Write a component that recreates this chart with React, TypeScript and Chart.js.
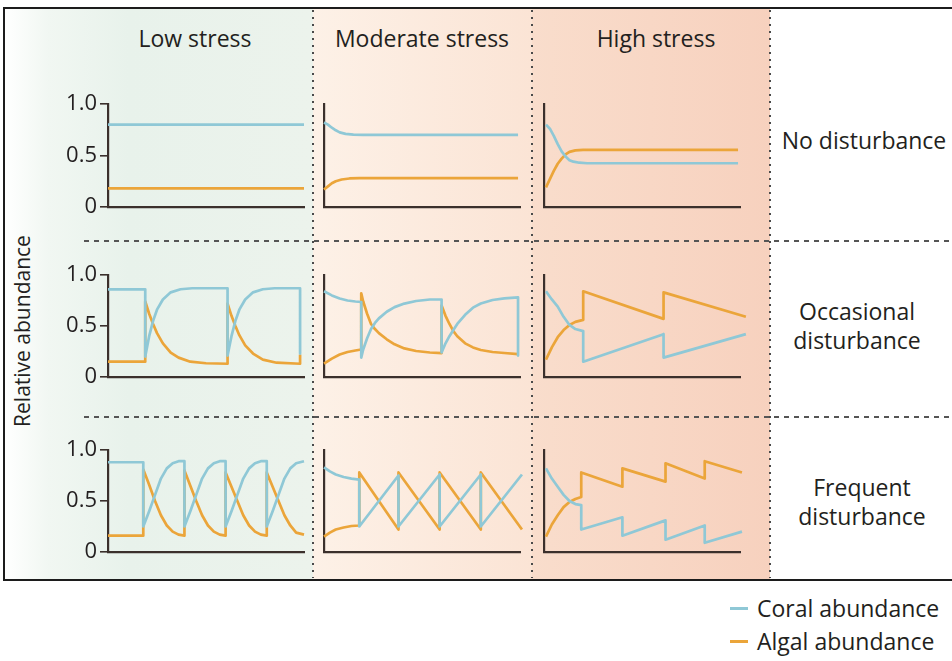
import React, { useEffect, useRef } from 'react';
import { Chart, registerables } from 'chart.js';

Chart.register(...registerables);

// ---------- data ----------
const columnTitles = ['Low stress', 'Moderate stress', 'High stress'];
const rowTitles = [['No disturbance'], ['Occasional', 'disturbance'], ['Frequent', 'disturbance']];
const yTickValues = [0, 0.5, 1];
const yTickLabels = ['0', '0.5', '1.0'];
const legendLabels = ['Coral abundance', 'Algal abundance'];

type P = [number, number];

// Row 1: no disturbance
const lowNoCoral: P[] = [[0, 0.8], [100, 0.8]];
const lowNoAlgal: P[] = [[0, 0.18], [100, 0.18]];
const modNoCoral: P[] = [[0, 0.82], [2, 0.8], [4, 0.77], [6, 0.745], [8, 0.725], [11, 0.71], [15, 0.703], [20, 0.7], [99, 0.7]];
const modNoAlgal: P[] = [[0, 0.17], [2, 0.2], [4, 0.23], [6, 0.25], [9, 0.267], [13, 0.277], [18, 0.28], [99, 0.28]];
const highNoCoral: P[] = [[1, 0.8], [3, 0.76], [5, 0.69], [7, 0.61], [9, 0.54], [11, 0.49], [13, 0.455], [15, 0.44], [18, 0.43], [22, 0.425], [99, 0.425]];
const highNoAlgal: P[] = [[1, 0.19], [3, 0.27], [5, 0.35], [7, 0.42], [9, 0.47], [11, 0.51], [13, 0.535], [16, 0.55], [20, 0.555], [99, 0.555]];

// Row 2: occasional disturbance
const lowOccCoral: P[] = [[0, 0.86], [19, 0.86], [19, 0.2], [21, 0.4], [23, 0.55], [25, 0.66], [28, 0.76], [32, 0.83], [37, 0.86], [43, 0.87], [61, 0.87], [61, 0.21], [63, 0.4], [65, 0.55], [67, 0.66], [70, 0.76], [74, 0.83], [79, 0.86], [85, 0.87], [98, 0.87], [98, 0.23]];
const lowOccAlgal: P[] = [[0, 0.15], [19, 0.15], [19, 0.74], [21, 0.62], [23, 0.52], [25, 0.43], [28, 0.33], [32, 0.24], [36, 0.19], [42, 0.15], [50, 0.135], [61, 0.13], [61, 0.72], [63, 0.6], [65, 0.5], [67, 0.41], [70, 0.31], [74, 0.23], [79, 0.17], [86, 0.14], [98, 0.13], [98, 0.22]];
const modOccCoral: P[] = [[0, 0.84], [4, 0.8], [8, 0.77], [12, 0.75], [16, 0.74], [19, 0.735], [19, 0.19], [20, 0.27], [22, 0.38], [24, 0.47], [26, 0.53], [28, 0.575], [32, 0.64], [36, 0.685], [41, 0.72], [47, 0.745], [54, 0.76], [60, 0.76], [60, 0.24], [62, 0.33], [64, 0.4], [66, 0.46], [68, 0.52], [72, 0.61], [76, 0.68], [80, 0.72], [86, 0.755], [92, 0.77], [99, 0.78], [99, 0.21]];
const modOccAlgal: P[] = [[0, 0.13], [4, 0.18], [8, 0.22], [12, 0.245], [16, 0.26], [19, 0.27], [19, 0.82], [20, 0.74], [22, 0.62], [24, 0.52], [26, 0.47], [28, 0.43], [32, 0.37], [36, 0.32], [41, 0.28], [47, 0.255], [54, 0.24], [60, 0.235], [60, 0.7], [62, 0.6], [64, 0.52], [66, 0.45], [68, 0.4], [72, 0.33], [76, 0.29], [80, 0.265], [86, 0.245], [92, 0.235], [99, 0.225]];
const highOccCoral: P[] = [[1, 0.84], [4, 0.76], [7, 0.69], [10, 0.59], [13, 0.51], [16, 0.47], [20, 0.45], [20, 0.15], [61, 0.42], [61, 0.19], [103, 0.42], [103, 0.16]];
const highOccAlgal: P[] = [[1, 0.17], [4, 0.29], [7, 0.39], [10, 0.46], [13, 0.51], [16, 0.54], [20, 0.56], [20, 0.84], [61, 0.57], [61, 0.83], [103, 0.59], [103, 0.82]];

// Row 3: frequent disturbance
const lowFreqCoral: P[] = [[0, 0.88], [18, 0.88], [18, 0.25], [21, 0.4], [24, 0.56], [27, 0.72], [30, 0.82], [33, 0.87], [36, 0.89], [39, 0.89], [39, 0.25], [42, 0.4], [45, 0.56], [48, 0.72], [51, 0.82], [54, 0.87], [57, 0.89], [60, 0.89], [60, 0.25], [63, 0.4], [66, 0.56], [69, 0.72], [72, 0.82], [75, 0.87], [78, 0.89], [81, 0.89], [81, 0.25], [84, 0.4], [87, 0.56], [90, 0.72], [93, 0.82], [96, 0.87], [100, 0.89]];
const lowFreqAlgal: P[] = [[0, 0.16], [18, 0.16], [18, 0.81], [21, 0.66], [24, 0.5], [27, 0.36], [30, 0.26], [33, 0.2], [36, 0.17], [39, 0.16], [39, 0.8], [42, 0.65], [45, 0.5], [48, 0.36], [51, 0.26], [54, 0.2], [57, 0.17], [60, 0.16], [60, 0.78], [63, 0.64], [66, 0.5], [69, 0.36], [72, 0.26], [75, 0.2], [78, 0.17], [81, 0.16], [81, 0.78], [84, 0.64], [87, 0.5], [90, 0.36], [93, 0.26], [96, 0.19], [100, 0.17]];
const modFreqCoral: P[] = [[0, 0.83], [3, 0.79], [6, 0.76], [10, 0.735], [14, 0.72], [18, 0.71], [18, 0.25], [38, 0.75], [38, 0.25], [59, 0.76], [59, 0.25], [80, 0.76], [80, 0.25], [101, 0.76], [101, 0.25]];
const modFreqAlgal: P[] = [[0, 0.15], [3, 0.19], [6, 0.22], [10, 0.24], [14, 0.255], [18, 0.26], [18, 0.78], [38, 0.22], [38, 0.78], [59, 0.22], [59, 0.78], [80, 0.22], [80, 0.78], [101, 0.22]];
const highFreqCoral: P[] = [[1, 0.82], [4, 0.72], [7, 0.64], [10, 0.56], [13, 0.5], [16, 0.47], [19, 0.46], [19, 0.22], [40, 0.34], [40, 0.16], [62, 0.31], [62, 0.12], [82, 0.26], [82, 0.09], [101, 0.2], [101, 0.08]];
const highFreqAlgal: P[] = [[1, 0.15], [4, 0.27], [7, 0.36], [10, 0.44], [13, 0.49], [16, 0.52], [19, 0.54], [19, 0.78], [40, 0.64], [40, 0.82], [62, 0.69], [62, 0.87], [82, 0.72], [82, 0.89], [101, 0.78], [101, 0.91]];

// ---------- style ----------
const FONT = '"Open Sans", sans-serif';
const TEXT = '#231f20';
const AXIS = '#3b302c';
const CORAL = '#8fc8d6';
const ALGAL = '#eba53a';

const colAxisX = [108, 324, 544];
const colAxisRight = [304, 520, 740];
const rowTop = [104, 275, 450];
const rowBottom = [207, 377, 552];

const PAD_L = 56;
const PAD_T = 16;
const PAD_R = 12;
const PAD_B = 16;

const panels: { coral: P[]; algal: P[] }[][] = [
  [{ coral: lowNoCoral, algal: lowNoAlgal }, { coral: modNoCoral, algal: modNoAlgal }, { coral: highNoCoral, algal: highNoAlgal }],
  [{ coral: lowOccCoral, algal: lowOccAlgal }, { coral: modOccCoral, algal: modOccAlgal }, { coral: highOccCoral, algal: highOccAlgal }],
  [{ coral: lowFreqCoral, algal: lowFreqAlgal }, { coral: modFreqCoral, algal: modFreqAlgal }, { coral: highFreqCoral, algal: highFreqAlgal }],
];

function Panel(props: { coral: P[]; algal: P[]; showTicks: boolean; left: number; top: number; width: number; height: number }) {
  const ref = useRef<HTMLCanvasElement | null>(null);
  useEffect(() => {
    const canvas = ref.current;
    if (!canvas) return;
    const lineDs = (pts: P[], color: string) => ({
      data: pts.map(([x, y]) => ({ x, y })),
      borderColor: color,
      backgroundColor: color,
      borderWidth: 2.7,
      pointRadius: 0,
      tension: 0,
      clip: false as any,
      borderJoinStyle: 'round' as const,
      borderCapStyle: 'butt' as const,
    });
    const chart = new Chart(canvas, {
      type: 'line',
      data: {
        datasets: [lineDs(props.coral, CORAL), lineDs(props.algal, ALGAL)],
      },
      options: {
        animation: false,
        responsive: false,
        maintainAspectRatio: false,
        events: [],
        layout: { padding: { left: 0, top: PAD_T, right: PAD_R, bottom: PAD_B } },
        plugins: { legend: { display: false }, tooltip: { enabled: false } },
        scales: {
          x: {
            type: 'linear',
            min: 0,
            max: 100,
            ticks: { display: false },
            grid: { display: false },
            border: { display: true, color: AXIS, width: 2.2 },
            afterFit: (s: any) => { s.height = 0; s.paddingLeft = 0; s.paddingRight = 0; },
          },
          y: {
            type: 'linear',
            min: 0,
            max: 1,
            afterBuildTicks: (s: any) => { s.ticks = yTickValues.map((v) => ({ value: v })); },
            ticks: props.showTicks
              ? {
                  display: true,
                  color: TEXT,
                  font: { family: FONT, size: 22 },
                  padding: 3,
                  callback: (_v: any, i: number) => yTickLabels[i],
                }
              : { display: false },
            grid: {
              display: props.showTicks,
              drawOnChartArea: false,
              drawTicks: true,
              tickLength: 8,
              tickColor: AXIS,
              lineWidth: 1.6,
            },
            border: { display: true, color: AXIS, width: 2.2 },
            afterFit: (s: any) => { s.width = PAD_L; s.paddingTop = 0; s.paddingBottom = 0; },
          },
        },
      },
    } as any);
    return () => chart.destroy();
  }, []);
  return (
    <canvas
      ref={ref}
      width={props.width}
      height={props.height}
      style={{ position: 'absolute', left: props.left, top: props.top, width: props.width, height: props.height }}
    />
  );
}

const textStyle: React.CSSProperties = {
  position: 'absolute',
  transform: 'translate(-50%, -50%)',
  whiteSpace: 'nowrap',
  fontFamily: FONT,
  fontSize: 23,
  color: TEXT,
  lineHeight: 1,
};

export default function App() {
  const vDots = (x: number) => (
    <div
      key={'v' + x}
      style={{
        position: 'absolute',
        left: x - 1,
        top: 10,
        width: 2,
        height: 568,
        backgroundImage: 'repeating-linear-gradient(to bottom, #4a4a4a 0px, #4a4a4a 2px, transparent 2px, transparent 7px)',
      }}
    />
  );
  const hDash = (y: number) => (
    <div
      key={'h' + y}
      style={{
        position: 'absolute',
        left: 84,
        top: y - 1,
        width: 870,
        height: 1.5,
        backgroundImage: 'repeating-linear-gradient(to right, #555 0px, #555 5px, transparent 5px, transparent 10px)',
      }}
    />
  );
  return (
    <div style={{ position: 'fixed', left: 0, top: 0, width: 952, height: 661, background: '#fff', overflow: 'hidden' }}>
      {/* background bands */}
      <div style={{ position: 'absolute', left: 5, top: 9, width: 308, height: 570, background: 'linear-gradient(to right, #ffffff 0%, #f1f7f2 14%, #e8f2eb 40%, #ecf3ec 100%)' }} />
      <div style={{ position: 'absolute', left: 313, top: 9, width: 219, height: 570, background: 'linear-gradient(to right, #fdf1e7 0%, #fbe4d5 100%)' }} />
      <div style={{ position: 'absolute', left: 532, top: 9, width: 238, height: 570, background: 'linear-gradient(to right, #f9ddcc 0%, #f7d1be 100%)' }} />
      {/* outer frame */}
      <div style={{ position: 'absolute', left: 3, top: 7, width: 1000, height: 570, border: '2.5px solid #1c1c1c', boxSizing: 'content-box' }} />
      {[313, 532, 770].map(vDots)}
      {[241, 417].map(hDash)}

      {columnTitles.map((t, i) => (
        <div key={t} style={{ ...textStyle, left: [195, 422, 656][i], top: 38 }}>{t}</div>
      ))}
      {rowTitles.map((lines, r) => (
        <div key={r} style={{ ...textStyle, left: [864, 857, 862][r], top: [140, 326, 502][r], textAlign: 'center', lineHeight: '29px' }}>
          {lines.map((l) => (<div key={l}>{l}</div>))}
        </div>
      ))}
      <div style={{ ...textStyle, fontSize: 21, left: 22, top: 331, transform: 'translate(-50%, -50%) rotate(-90deg)' }}>Relative abundance</div>

      {panels.map((row, r) =>
        row.map((p, c) => (
          <Panel
            key={r + '-' + c}
            coral={p.coral}
            algal={p.algal}
            showTicks={c === 0}
            left={colAxisX[c] - PAD_L}
            top={rowTop[r] - PAD_T}
            width={colAxisRight[c] - colAxisX[c] + PAD_L + PAD_R}
            height={rowBottom[r] - rowTop[r] + PAD_T + PAD_B}
          />
        ))
      )}

      {/* legend */}
      {legendLabels.map((l, i) => (
        <React.Fragment key={l}>
          <div style={{ position: 'absolute', left: 730, top: [608, 641][i] - 1, width: 18, height: 2.5, background: [CORAL, ALGAL][i] }} />
          <div style={{ ...textStyle, transform: 'translate(0, -50%)', left: 757, top: [608, 641][i] }}>{l}</div>
        </React.Fragment>
      ))}
    </div>
  );
}
